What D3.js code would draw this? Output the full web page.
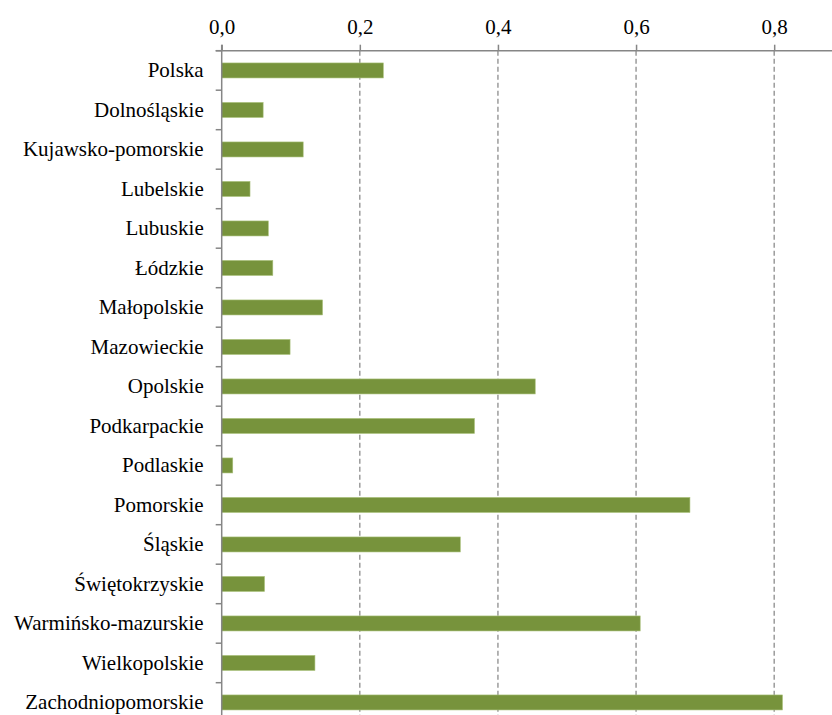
<!DOCTYPE html>
<html>
<head>
<meta charset="utf-8">
<script src="https://cdn.jsdelivr.net/npm/d3@7/dist/d3.min.js"></script>
<style>
  body { margin: 0; background: #fff; }
  svg { display: block; }
</style>
</head>
<body>
<svg id="chart" width="832" height="715"></svg>
<script>
var regions = ["Polska", "Dolnośląskie", "Kujawsko-pomorskie", "Lubelskie", "Lubuskie",
    "Łódzkie", "Małopolskie", "Mazowieckie", "Opolskie", "Podkarpackie", "Podlaskie",
    "Pomorskie", "Śląskie", "Świętokrzyskie", "Warmińsko-mazurskie", "Wielkopolskie",
    "Zachodniopomorskie"];

var values = [0.234, 0.060, 0.118, 0.041, 0.0675, 0.074, 0.146, 0.099, 0.454, 0.366,
    0.016, 0.678, 0.3455, 0.062, 0.606, 0.135, 0.812];

var xTicks = [0, 0.2, 0.4, 0.6, 0.8];

var colors = {
    bar: "#77933C",
    axis: "#868686",
    grid: "#8c8c8c"
};

var FONT = "'Liberation Serif', 'Times New Roman', serif";

// note: "top" is taken by window.top, so use other names
var plotLeft = 221.7, plotTop = 50.7, step = 39.5;
var pxPerUnit = 690.6;

var svg = d3.select("#chart");

var x = d3.scaleLinear()
    .domain([0, 0.9])
    .range([plotLeft, plotLeft + pxPerUnit * 0.9]);

var y = d3.scaleBand()
    .domain(regions)
    .range([plotTop, plotTop + step * regions.length])
    .paddingInner(0.62)
    .paddingOuter(0.31);

// dashed gridlines
svg.append("g")
    .selectAll("line")
    .data(xTicks.filter(function (d) { return d > 0; }))
    .enter()
    .append("line")
        .attr("x1", function (d) { return x(d); })
        .attr("x2", function (d) { return x(d); })
        .attr("y1", plotTop)
        .attr("y2", 715)
        .attr("stroke", colors.grid)
        .attr("stroke-width", 1.3)
        .attr("stroke-dasharray", "5,3");

// bars
svg.append("g")
    .selectAll("rect")
    .data(regions)
    .enter()
    .append("rect")
        .attr("x", x(0))
        .attr("y", function (d) { return y(d); })
        .attr("width", function (d, i) { return x(values[i]) - x(0); })
        .attr("height", y.bandwidth())
        .attr("fill", colors.bar)
        .attr("stroke", "#a9c07a")
        .attr("stroke-width", 0.6);

// top axis
var xAxis = d3.axisTop(x)
    .tickValues(xTicks)
    .tickSize(6)
    .tickSizeOuter(0)
    .tickFormat(function (d) { return d3.format(".1f")(d).replace(".", ","); });

var gx = svg.append("g")
    .attr("transform", "translate(0," + plotTop + ")")
    .call(xAxis)
    .attr("font-family", FONT)
    .attr("font-size", 21);
gx.select(".domain").remove();
gx.append("line")
    .attr("x1", plotLeft - 6).attr("x2", 832)
    .attr("stroke", colors.axis).attr("stroke-width", 1.5);
gx.selectAll(".tick line").attr("stroke", colors.axis).attr("stroke-width", 1.5);
gx.selectAll(".tick text")
    .attr("y", -17)
    .attr("dy", 0);

// left axis
var yAxis = d3.axisLeft(y).tickSize(0).tickPadding(18);
var gy = svg.append("g")
    .attr("transform", "translate(" + plotLeft + ",0)")
    .call(yAxis)
    .attr("font-family", FONT)
    .attr("font-size", 21);
gy.select(".domain").remove();
gy.append("line")
    .attr("y1", plotTop - 6).attr("y2", 715)
    .attr("stroke", colors.axis).attr("stroke-width", 1.5);
gy.selectAll(".bound")
    .data(d3.range(regions.length + 1))
    .enter()
    .append("line")
        .attr("class", "bound")
        .attr("x1", -6).attr("x2", 0)
        .attr("y1", function (i) { return plotTop + i * step; })
        .attr("y2", function (i) { return plotTop + i * step; })
        .attr("stroke", colors.axis)
        .attr("stroke-width", 1.5);

svg.selectAll(".tick text")
    .style("font-family", FONT)
    .attr("fill", "#000");
</script>
</body>
</html>
